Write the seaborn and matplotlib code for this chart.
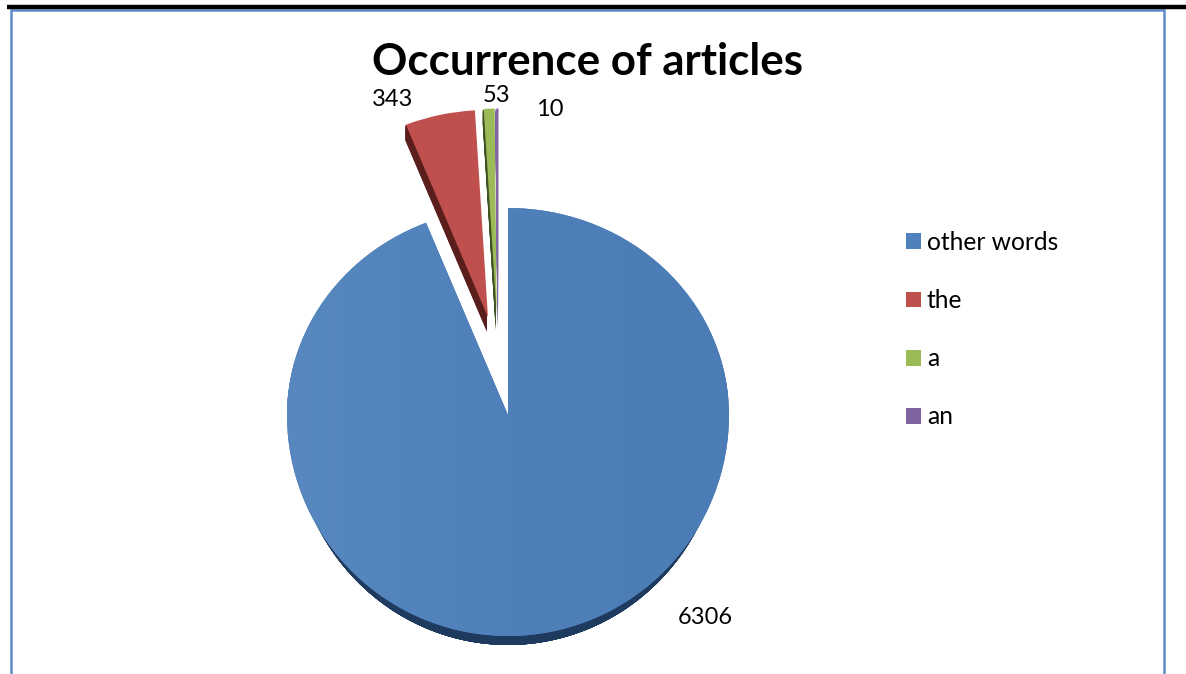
import numpy as np
import matplotlib
matplotlib.use("Agg")
import matplotlib.pyplot as plt
from matplotlib.colors import LinearSegmentedColormap
from matplotlib.transforms import Transform, Affine2D
import seaborn as sns

categories = ["other words", "the", "a", "an"]
values = [6306, 343, 53, 10]
title_text = "Occurrence of articles"
explode_share = [0, 0.5, 0.5, 0.5]

sns.set_theme(style="white")
plt.rcParams["font.family"] = ["Lato", "DejaVu Sans"]
colors = sns.color_palette(["#4F81BD", "#C0504D", "#9BBB59", "#8064A2"])
dark = sns.color_palette(["#1F3A5F", "#5A1F1D", "#3F5222", "#8064A2"])

W, H = 1186, 674
CX, CY, R = 508, H - 415, 221
TOP_SCALE = 207 / 221
# perspective nudge of each slice (dx, dy) and its side-face depth
nudges = [(0, 0), (4, -3), (-7.5, -4), (-9, -4)]
depths = [9, 15, 15, 15]


class Squash(Transform):
    """Tilted pie: the half behind the centre is foreshortened;
    front_x narrows the half in front of it (used for the side face)."""
    input_dims = output_dims = 2
    is_separable = False
    has_inverse = False

    def __init__(self, front_x=1.0):
        super().__init__()
        self.front_x = front_x

    def transform_non_affine(self, xy):
        xy = np.array(xy, dtype=float)
        up = xy[:, 1] > CY
        xy[up, 1] = CY + (xy[up, 1] - CY) * TOP_SCALE
        down = xy[:, 1] < CY
        xy[down, 0] = CX + (xy[down, 0] - CX) * self.front_x
        return xy


fig = plt.figure(figsize=(W / 100, H / 100), dpi=100, facecolor="white")
ax = fig.add_axes([0, 0, 1, 1])

common = dict(startangle=90, counterclock=False,
              explode=[e * R for e in explode_share],
              center=(CX, CY), radius=R, normalize=True,
              wedgeprops=dict(edgecolor="none", linewidth=0))

# side faces: a stack of dark copies swept downwards
for step in range(1, max(depths) + 1):
    side, _ = ax.pie(values, colors=dark, **common)
    for i, s in enumerate(side):
        dx, dy = nudges[i]
        tf = Squash(0.973 if i == 0 else 1.0)
        if i > 0:
            dx -= 1
        off = min(step, depths[i])
        s.set_transform(tf + Affine2D().translate(dx, dy - off) + ax.transData)
        s.set_zorder(2)

faces, _ = ax.pie(values, colors=colors, **common)
for i, f in enumerate(faces):
    dx, dy = nudges[i]
    f.set_transform(Squash() + Affine2D().translate(dx, dy) + ax.transData)
    f.set_zorder(3)

# soft left-to-right sheen on the large slice
sheen = LinearSegmentedColormap.from_list("sheen", ["#5888BF", "#4F80BA", "#4C7CB5"])
img = ax.imshow(np.linspace(0, 1, 256)[None, :], cmap=sheen, aspect="auto",
                extent=(CX - R, CX + R, CY - R, CY + R), zorder=4)
img.set_clip_path(faces[0])

ax.set_aspect("auto")
ax.set_xlim(0, W)
ax.set_ylim(0, H)
ax.set_xticks([])
ax.set_yticks([])
ax.set_frame_on(False)

# page frame
ax.plot([7, W], [H - 7, H - 7], color="black", lw=3.2, solid_capstyle="butt", zorder=6)
ax.plot([11, 11, 1163.5, 1163.5], [0, H - 9.5, H - 9.5, 0], color="#5B8BCB", lw=1.8,
        solid_joinstyle="miter", zorder=5)

ax.text(587, H - 62, title_text, ha="center", va="center", fontsize=31.6,
        fontweight="bold", color="black", zorder=7)

label_pos = [(705, 617), (393, 99), (496, 95), (550, 109)]
for v, (x, y) in zip(values, label_pos):
    ax.text(x, H - y, str(v), ha="center", va="center", fontsize=17, color="black", zorder=7)

leg = ax.legend(faces, categories, loc="upper left", bbox_to_anchor=(906 / W, 1 - 231 / H),
                frameon=False, fontsize=17.7, handlelength=0.607, handleheight=0.607,
                handletextpad=0.243, labelspacing=1.43, borderpad=0, borderaxespad=0)
for t in leg.get_texts():
    t.set_color("black")

fig.savefig("out.png", dpi=100, facecolor="white")
